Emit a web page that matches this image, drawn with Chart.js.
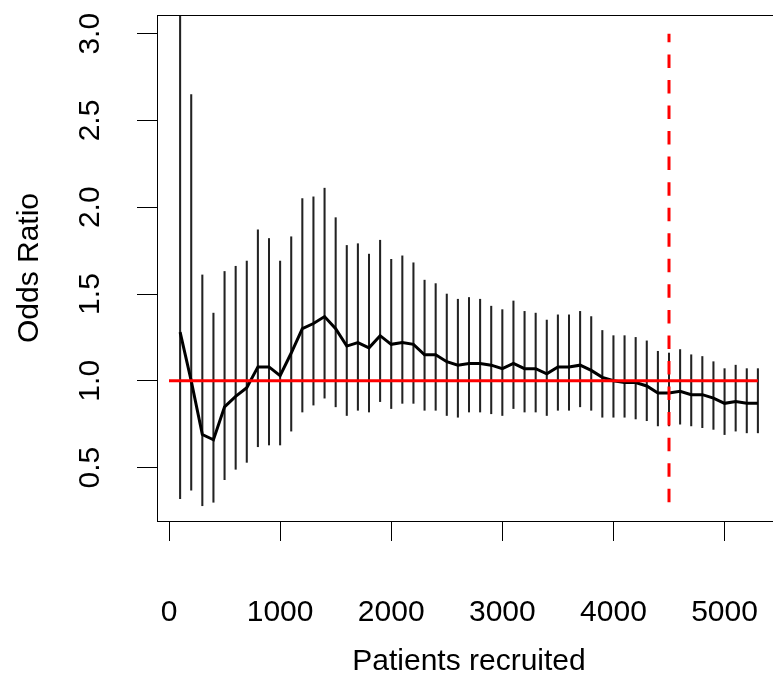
<!DOCTYPE html>
<html>
<head>
<meta charset="utf-8">
<script src="https://cdn.jsdelivr.net/npm/chart.js@4"></script>
<style>
  html, body { margin: 0; padding: 0; overflow: hidden; background: #fff; }
  #wrap { width: 781px; height: 675px; }
</style>
</head>
<body>
<div id="wrap"><canvas id="orChart" width="781" height="675"></canvas></div>
<script>
// patients recruited at each interim look
const patients = [];
for (let n = 100; n <= 5300; n += 100) patients.push(n);

// odds ratio estimate at each look
const oddsRatio = [
  1.28, 1.00, 0.69, 0.66, 0.85, 0.91, 0.96, 1.08, 1.08, 1.03,
  1.16, 1.30, 1.33, 1.37, 1.30, 1.20, 1.22, 1.19, 1.26, 1.21,
  1.22, 1.21, 1.15, 1.15, 1.11, 1.09, 1.10, 1.10, 1.09, 1.07,
  1.10, 1.07, 1.07, 1.04, 1.08, 1.08, 1.09, 1.06, 1.02, 1.00,
  0.99, 0.99, 0.97, 0.93, 0.93, 0.94, 0.92, 0.92, 0.90, 0.87,
  0.88, 0.87, 0.87
];

// lower and upper confidence limits
const ciLower = [
  0.32, 0.37, 0.28, 0.30, 0.43, 0.49, 0.53, 0.62, 0.63, 0.63,
  0.71, 0.82, 0.86, 0.90, 0.85, 0.80, 0.83, 0.82, 0.88, 0.84,
  0.87, 0.87, 0.83, 0.83, 0.80, 0.79, 0.82, 0.82, 0.81, 0.80,
  0.84, 0.82, 0.82, 0.80, 0.83, 0.83, 0.85, 0.83, 0.79, 0.79,
  0.79, 0.78, 0.77, 0.74, 0.74, 0.75, 0.74, 0.73, 0.72, 0.69,
  0.71, 0.70, 0.70
];
const ciUpper = [
  3.60, 2.65, 1.61, 1.39, 1.63, 1.66, 1.69, 1.87, 1.82, 1.69,
  1.83, 2.05, 2.06, 2.11, 1.94, 1.78, 1.79, 1.73, 1.81, 1.70,
  1.72, 1.68, 1.58, 1.56, 1.50, 1.47, 1.48, 1.47, 1.43, 1.41,
  1.46, 1.40, 1.39, 1.35, 1.38, 1.38, 1.40, 1.37, 1.29, 1.26,
  1.26, 1.25, 1.23, 1.17, 1.16, 1.18, 1.15, 1.14, 1.11, 1.07,
  1.09, 1.07, 1.07
];

// reference lines
const noEffect = 1.0;
const noEffectSpan = [0, 5300];
const plannedSize = 4500;
const plannedSpan = [0.3, 3.0];

// axis ticks
const xTicks = [0, 1000, 2000, 3000, 4000, 5000];
const yTicks = [0.5, 1.0, 1.5, 2.0, 2.5, 3.0];

const FONT = '"Liberation Sans", Arial, sans-serif';

// R style box around the plot region + rotated y tick labels
const rBox = {
  id: 'rBox',
  afterDraw(chart) {
    const { ctx, chartArea: a } = chart;
    ctx.save();
    ctx.strokeStyle = '#000';
    ctx.lineWidth = 1;
    ctx.strokeRect(Math.round(a.left) + 0.5, Math.round(a.top) + 0.5,
      Math.round(a.right - a.left), Math.round(a.bottom - a.top));
    ctx.fillStyle = '#000';
    ctx.font = '30px ' + FONT;
    ctx.textAlign = 'center';
    ctx.textBaseline = 'middle';
    const y = chart.scales.y;
    yTicks.forEach(v => {
      ctx.save();
      ctx.translate(91, y.getPixelForValue(v));
      ctx.rotate(-Math.PI / 2);
      ctx.fillText(v.toFixed(1), 0, 0);
      ctx.restore();
    });
    ctx.restore();
  }
};

new Chart(document.getElementById('orChart'), {
  type: 'line',
  data: {
    datasets: [
      {
        type: 'line',
        data: [{ x: plannedSize, y: plannedSpan[0] }, { x: plannedSize, y: plannedSpan[1] }],
        borderColor: '#ff0000',
        borderWidth: 3,
        borderDash: [13.5, 12.05],
        pointRadius: 0,
        order: 0
      },
      {
        type: 'line',
        data: noEffectSpan.map(x => ({ x: x, y: noEffect })),
        borderColor: '#ff0000',
        borderWidth: 3,
        pointRadius: 0,
        order: 1
      },
      {
        type: 'line',
        data: patients.map((x, i) => ({ x: x, y: oddsRatio[i] })),
        borderColor: '#000',
        borderWidth: 3,
        pointRadius: 0,
        tension: 0,
        order: 2
      },
      {
        type: 'bar',
        data: patients.map((x, i) => ({ x: x, y: [ciLower[i], ciUpper[i]] })),
        backgroundColor: '#222',
        borderWidth: 0,
        barThickness: 1.4,
        grouped: false,
        clip: { left: 0, top: 0, right: 0, bottom: 0 },
        order: 3
      }
    ]
  },
  options: {
    responsive: false,
    devicePixelRatio: 1,
    animation: false,
    events: [],
    layout: { autoPadding: false, padding: { left: 0, top: 15, right: 0, bottom: 0 } },
    plugins: { legend: { display: false }, tooltip: { enabled: false } },
    scales: {
      x: {
        type: 'linear',
        min: -108,
        max: 5508,
        offset: false,
        afterBuildTicks: s => { s.ticks = xTicks.map(v => ({ value: v })); },
        afterFit: s => { s.height = 154; s.paddingLeft = 0; s.paddingRight = 0; },
        border: { display: false },
        grid: { offset: false, drawOnChartArea: false, tickLength: 20, color: '#000', lineWidth: 1 },
        ticks: {
          color: '#000',
          padding: 57,
          maxRotation: 0,
          autoSkip: false,
          font: { family: FONT, size: 30, lineHeight: 1 },
          callback: v => String(v)
        },
        title: {
          display: true,
          text: 'Patients recruited',
          color: '#000',
          padding: { top: 0, bottom: -2 },
          font: { family: FONT, size: 30, lineHeight: 1 }
        }
      },
      y: {
        type: 'linear',
        min: 0.192,
        max: 3.108,
        afterBuildTicks: s => { s.ticks = yTicks.map(v => ({ value: v })); },
        afterFit: s => { s.width = 157; s.paddingTop = 0; s.paddingBottom = 0; },
        border: { display: false },
        grid: { drawOnChartArea: false, tickLength: 20, color: '#000', lineWidth: 1 },
        ticks: { display: false },
        title: {
          display: true,
          text: 'Odds Ratio',
          color: '#000',
          padding: { top: 15, bottom: 0 },
          font: { family: FONT, size: 30, lineHeight: 1 }
        }
      }
    }
  },
  plugins: [rBox]
});
</script>
</body>
</html>
